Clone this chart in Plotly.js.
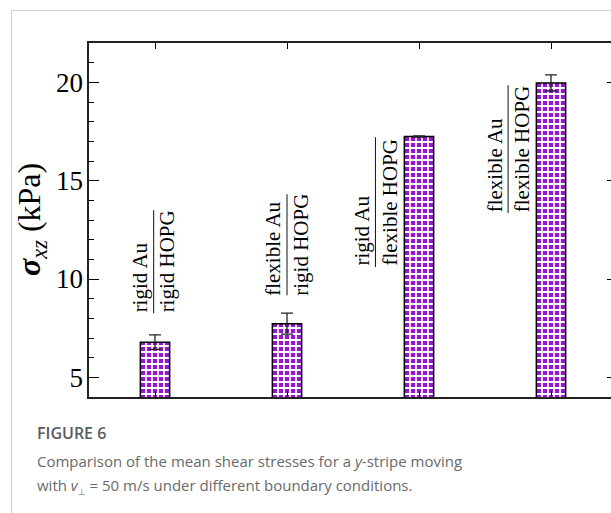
<!DOCTYPE html>
<html>
<head>
<meta charset="utf-8">
<script src="https://cdn.plot.ly/plotly-3.0.1.min.js"></script>
<style>
  html, body { margin: 0; padding: 0; width: 611px; height: 513px; overflow: hidden; background: #fff; }
  #frame { position: absolute; left: 11px; top: 10px; width: 700px; height: 600px;
           border-left: 1px solid #cfcfcf; border-top: 1px solid #cfcfcf; }
  #chart { position: absolute; left: 0; top: 0; }
  .cap { position: absolute; left: 37px; font-family: 'Open Sans', 'DejaVu Sans', sans-serif; color: #6a6a6a; white-space: nowrap; }
  #fig { top: 422px; font-size: 16px; font-weight: 600; color: #5a5a5a; }
  #l1 { top: 451px; font-size: 15px; }
  #l2 { top: 475px; font-size: 15px; }
</style>
</head>
<body>
<div id="frame"></div>
<div id="chart"></div>
<div class="cap" id="fig">FIGURE 6</div>
<div class="cap" id="l1">Comparison of the mean shear stresses for a <i>y</i>-stripe moving</div>
<div class="cap" id="l2">with <i>v</i><sub style="font-size:9px">⊥</sub> = 50 m/s under different boundary conditions.</div>
<script>
// ---- data ----
const categories = [1, 2, 3, 4];
const numerators = ["rigid Au", "flexible Au", "rigid Au", "flexible Au"];
const denominators = ["rigid HOPG", "rigid HOPG", "flexible HOPG", "flexible HOPG"];
const stressValues = [6.79, 7.73, 17.24, 19.97];
const stressErrors = [0.37, 0.53, 0.03, 0.41];
const yTickVals = [5, 10, 15, 20];

// ---- label placement (layout only) ----
const labelX = [0.99, 2.00, 2.67, 3.675];
const labelY = [10.88, 11.74, 13.91, 16.60];
const labelHalf = [2.62, 2.57, 3.30, 3.25];

const purple = '#9418d2';
const serif = 'Liberation Serif, Times New Roman, serif';

const trace = {
  type: 'bar',
  x: categories,
  y: stressValues,
  width: 0.222,
  marker: {
    color: purple,
    line: { color: '#000', width: 1.5 },
    pattern: { shape: '+', fgcolor: '#ffffff', bgcolor: purple, size: 6, solidity: 0.5, fillmode: 'replace' }
  },
  error_y: { type: 'data', array: stressErrors, visible: true, color: '#222', thickness: 1.3, width: 6 },
  hoverinfo: 'skip'
};

const annotations = [];
const shapes = [];
for (let i = 0; i < categories.length; i++) {
  annotations.push({
    x: labelX[i], y: labelY[i], xref: 'x', yref: 'y',
    text: numerators[i] + '<br>' + denominators[i],
    textangle: -90, align: 'left', showarrow: false,
    xanchor: 'center', yanchor: 'middle',
    font: { family: serif, size: 21, color: '#000' }
  });
  shapes.push({
    type: 'line', xref: 'x', yref: 'y',
    x0: labelX[i], x1: labelX[i],
    y0: labelY[i] - labelHalf[i], y1: labelY[i] + labelHalf[i],
    line: { color: '#111', width: 1 }
  });
}
annotations.push({
  xref: 'paper', yref: 'paper', x: 0, y: 0.5, xshift: -58,
  xanchor: 'center', yanchor: 'middle', textangle: -90, showarrow: false,
  text: '<b><i>σ</i></b><sub><i>xz</i></sub> (kPa)',
  font: { family: serif, size: 32, color: '#000' }
});

const layout = {
  width: 623, height: 513,
  margin: { l: 89, r: 6, t: 43, b: 116, pad: 0 },
  paper_bgcolor: 'rgba(0,0,0,0)', plot_bgcolor: '#fff',
  showlegend: false,
  xaxis: {
    range: [0.5, 4.5], tickvals: categories, showticklabels: false,
    ticks: 'inside', ticklen: 6, tickwidth: 1, tickcolor: '#000',
    showline: true, linecolor: '#222', linewidth: 1.6, mirror: 'allticks',
    showgrid: false, zeroline: false, fixedrange: true
  },
  yaxis: {
    range: [4, 22], tickvals: yTickVals, ticktext: yTickVals.map(String),
    ticks: 'inside', ticklen: 10, tickwidth: 1, tickcolor: '#000',
    minor: { dtick: 1, ticks: 'inside', ticklen: 5, tickwidth: 1, tickcolor: '#000', showgrid: false },
    showline: true, linecolor: '#222', linewidth: 1.6, mirror: 'allticks',
    showgrid: false, zeroline: false, fixedrange: true,
    tickfont: { family: serif, size: 27, color: '#000' },
    ticklabelstandoff: -1
  },
  annotations: annotations,
  shapes: shapes
};

Plotly.newPlot('chart', [trace], layout, { staticPlot: true, displayModeBar: false });
</script>
</body>
</html>
